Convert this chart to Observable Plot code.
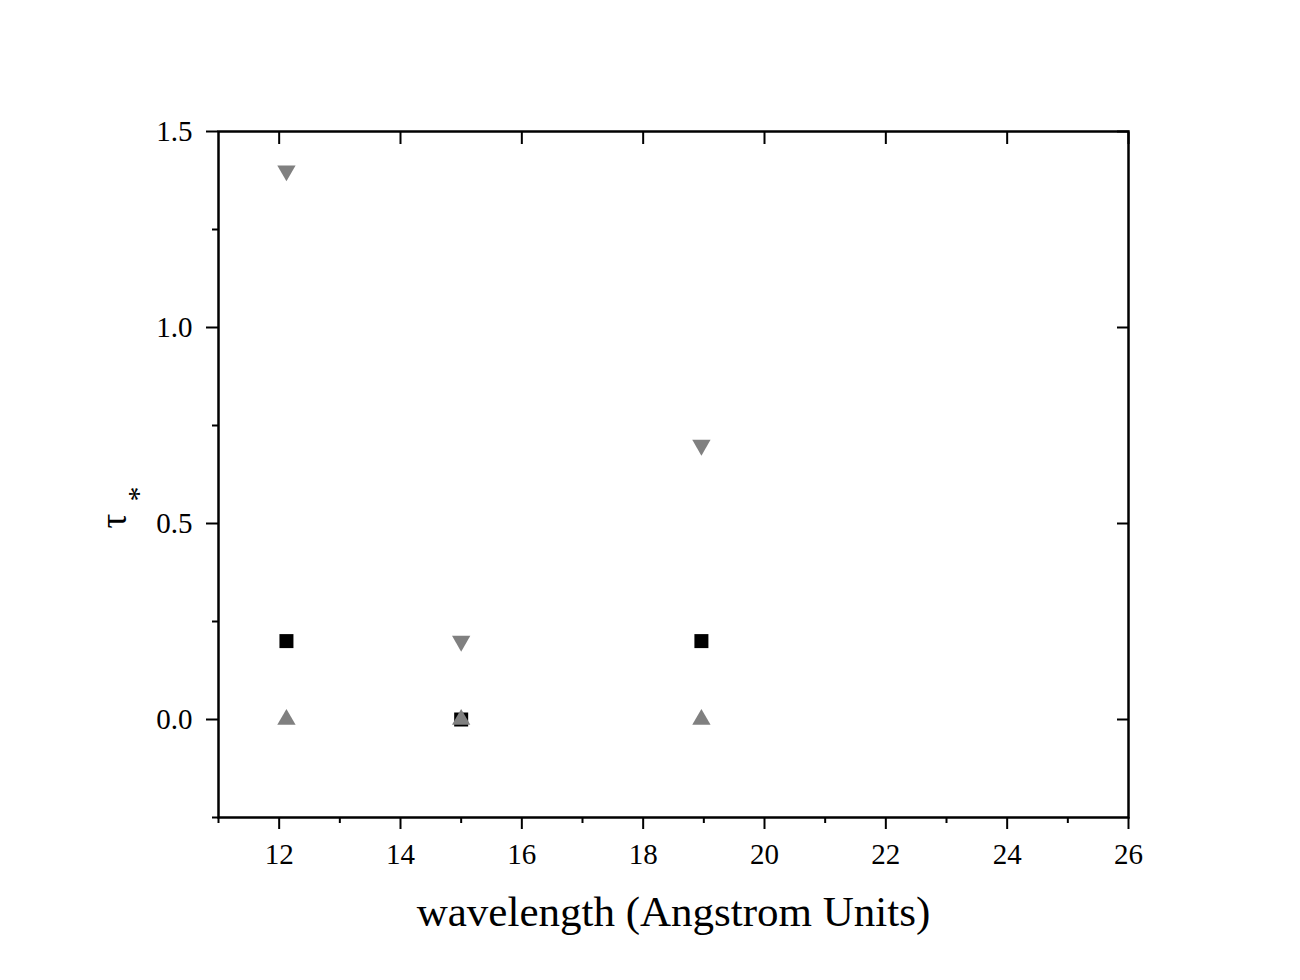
<!DOCTYPE html>
<html>
<head>
<meta charset="utf-8">
<script src="https://cdn.jsdelivr.net/npm/d3@7"></script>
<script src="https://cdn.jsdelivr.net/npm/@observablehq/plot@0.6"></script>
<style>
  html, body { margin: 0; padding: 0; background: #fff; }
</style>
</head>
<body>
<div id="chart"></div>
<script>
const wavelengths = [12.12, 15.0, 18.96];
const squareVals = [0.2, 0.0, 0.2];
const triUpVals = [0.0, 0.0, 0.0];
const triDownVals = [1.4, 0.2, 0.7];

const xMajor = [12, 14, 16, 18, 20, 22, 24, 26];
const xMinor = [11, 13, 15, 17, 19, 21, 23, 25];
const yMajor = [0.0, 0.5, 1.0, 1.5];
const yMinor = [-0.25, 0.25, 0.75, 1.25];

const xTitle = "wavelength (Angstrom Units)";

const squares = wavelengths.map((w, i) => ({x: w, y: squareVals[i]}));
const ups = wavelengths.map((w, i) => ({x: w, y: triUpVals[i]}));
const downs = wavelengths.map((w, i) => ({x: w, y: triDownVals[i]}));

const chart = Plot.plot({
  width: 1300,
  height: 980,
  marginLeft: 218,
  marginRight: 172,
  marginTop: 131,
  marginBottom: 163,
  style: {fontFamily: "'Liberation Serif', 'DejaVu Serif', serif", fontSize: "29px", color: "#000", background: "#fff"},
  x: {domain: [11, 26]},
  y: {domain: [-0.25, 1.5]},
  marks: [
    // bottom axis
    Plot.axisX({anchor: "bottom", ticks: xMajor, tickSize: 12, strokeWidth: 2, tickPadding: 14, fontSize: 29, label: null, tickFormat: d3.format("d")}),
    Plot.axisX({anchor: "bottom", ticks: xMinor, tickSize: 6, strokeWidth: 2, text: null, label: null}),
    // top axis inward
    Plot.axisX({anchor: "top", ticks: xMajor, tickSize: 12, dy: 12, strokeWidth: 2, text: null, label: null}),
    // left axis
    Plot.axisY({anchor: "left", ticks: yMajor, tickSize: 12, strokeWidth: 2, tickPadding: 14, fontSize: 29, label: null, tickFormat: d3.format(".1f")}),
    Plot.axisY({anchor: "left", ticks: yMinor, tickSize: 6, strokeWidth: 2, text: null, label: null}),
    // right axis inward
    Plot.axisY({anchor: "right", ticks: yMajor, tickSize: 12, dx: -12, strokeWidth: 2, text: null, label: null}),
    Plot.frame({stroke: "#000", strokeWidth: 2.5}),
    Plot.dot(squares, {x: "x", y: "y", symbol: "square", r: 7.9, fill: "#000", stroke: null}),
    Plot.dot(ups, {x: "x", y: "y", symbol: "triangle", r: 6.8, fill: "#808080", stroke: null}),
    Plot.dot(downs, {x: "x", y: "y", symbol: "triangle", r: 6.8, rotate: 180, fill: "#808080", stroke: null}),
    Plot.text([xTitle], {frameAnchor: "bottom", dy: 108, fontSize: 43, fill: "#000"}),
    Plot.text(["τ"], {frameAnchor: "left", dx: -104, dy: 54, rotate: -90, fontSize: 37, fill: "#000"}),
    Plot.text(["*"], {frameAnchor: "left", dx: -80, dy: 27, rotate: -90, fontSize: 30, fill: "#000"})
  ]
});
document.getElementById("chart").appendChild(chart);
</script>
</body>
</html>
